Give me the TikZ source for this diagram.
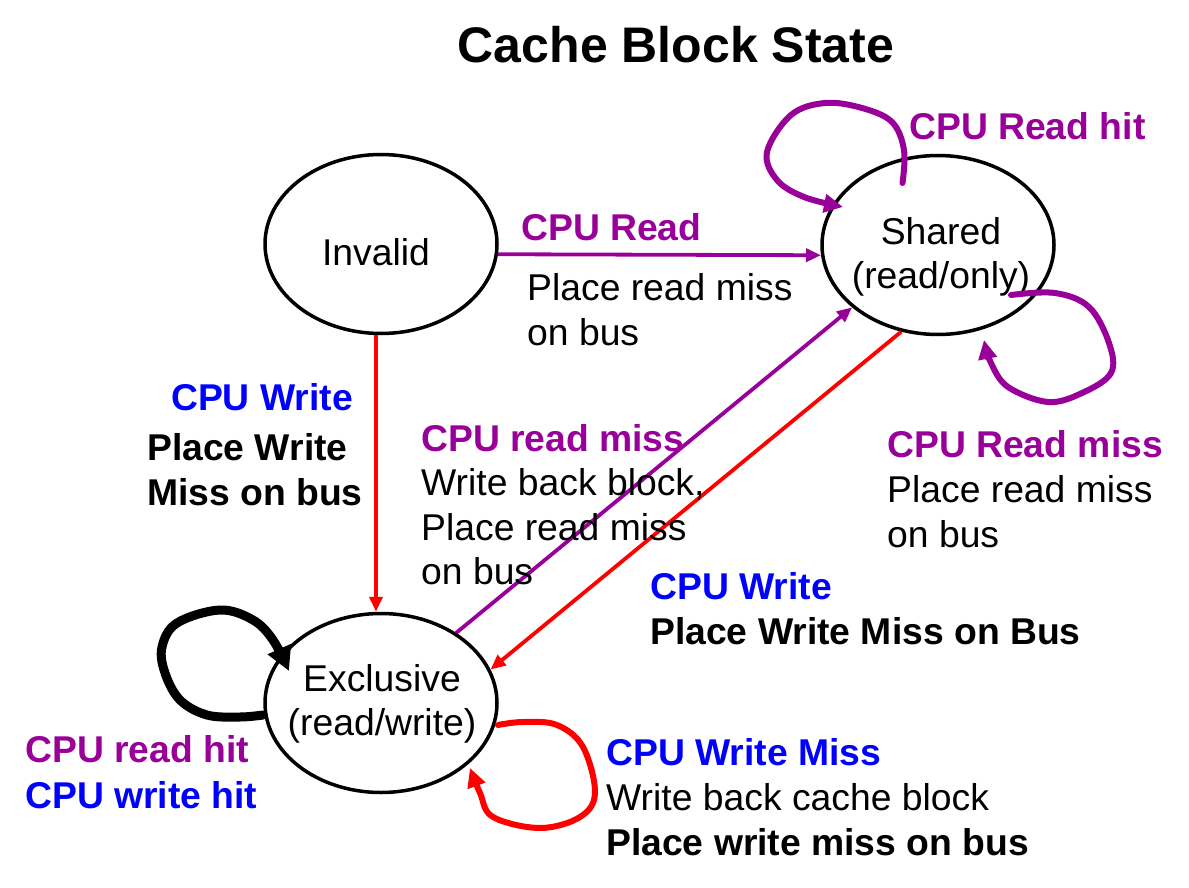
\documentclass[tikz,border=0pt]{standalone}
\usepackage{fontspec}
\setmainfont{Liberation Sans}
\usetikzlibrary{arrows.meta,calc,shapes.geometric}
\definecolor{pp}{RGB}{153,0,153}
\definecolor{bl}{RGB}{0,0,255}
\definecolor{rd}{RGB}{255,0,0}
\begin{document}
\begin{tikzpicture}[x=1pt,y=-1pt,
  state/.style={draw=black, line width=3.5pt, ellipse, minimum width=232pt, minimum height=179pt, inner sep=0pt},
  txt/.style={anchor=base west, inner sep=0pt, font=\fontsize{37.3}{44.5}\selectfont},
  txtr/.style={anchor=base east, inner sep=0pt, font=\fontsize{37.3}{44.5}\selectfont},
  stxt/.style={anchor=base, inner sep=0pt, font=\fontsize{37.3}{44.5}\selectfont},
  bb/.style={font=\fontsize{37.3}{44.5}\selectfont\bfseries},
  thin arrow/.style={line width=3.8pt, -{Triangle[length=15pt,width=13pt]}},
  loop arrow/.style={line width=6pt, line join=round, line cap=round, -{Triangle[length=19pt,width=18pt]}},
]
\useasboundingbox (0,0) rectangle (1189,888);

% title
\node[anchor=base, inner sep=0pt, font=\fontsize{50}{60}\selectfont\bfseries] (title) at (676,63) {Cache Block State};

% states
\node[state] (I) at (381,244) {};
\node[state] (S) at (938,245) {};
\node[state] (E) at (381,703) {};

\node[stxt] (It) at (376,265) {Invalid};
\node[stxt] (St1) at (941,244) {Shared};
\node[stxt] (St2) at (941,288) {(read/only)};
\node[stxt] (Et1) at (382,691) {Exclusive};
\node[stxt] (Et2) at (382,735) {(read/write)};

% straight transitions
\draw[thin arrow, pp] (I.-5) -- (S.185);
\draw[thin arrow, rd] ($(I.south)+(-5,0)$) -- ($(E.north)+(-5,0)$);
\draw[thin arrow, pp] (E.43.5) -- (S.216);
\draw[thin arrow, rd] (S.247) -- (E.17.8);

% self loops
\draw[loop arrow, pp] plot[smooth, tension=0.6] coordinates {(902.5,183) (904,150) (892,122) (862,108) (825,103) (791,115) (767,152) (777,180) (804,197) (843,207)};
\draw[loop arrow, pp] plot[smooth, tension=0.6] coordinates {(1011,295) (1055,293) (1089,307) (1109,343) (1111,373) (1082,393) (1048,402) (1008,387) (991,363) (984,340)};
\draw[line width=9pt, line join=round, line cap=round, black, -{Triangle[length=24pt,width=24pt]}] plot[smooth, tension=0.6] coordinates {(263,715) (240,717) (207,715) (180,700) (165,673) (162,647) (177,623) (220,610) (253,620) (273,640) (289,671)};
\draw[loop arrow, rd] plot[smooth, tension=0.6] coordinates {(498,725) (523,722) (557,725) (583,747) (595,793) (580,817) (540,828) (493,817) (480,793) (470,768)};

% labels
\node[txt, bb, pp] (l1) at (521,240) {CPU Read};
\node[txt] (l2) at (527,300) {Place read miss};
\node[txt] (l3) at (527,345) {on bus};

\node[txt, bb, pp] (l4) at (909,140) {CPU Read hit};

\node[txtr, bb, bl] (l5) at (353,410) {CPU Write};
\node[txt, bb] (l6) at (147,460) {Place Write};
\node[txt, bb] (l7) at (147,505) {Miss on bus};

\node[txt, bb, pp] (l8) at (421,451) {CPU read miss};
\node[txt] (l9) at (421,495) {Write back block,};
\node[txt] (l10) at (421,540) {Place read miss};
\node[txt] (l11) at (421,584) {on bus};

\node[txt, bb, pp] (l12) at (887,457) {CPU Read miss};
\node[txt] (l13) at (887,502) {Place read miss};
\node[txt] (l14) at (887,547) {on bus};

\node[txt, bb, bl] (l15) at (650,599) {CPU Write};
\node[txt, bb] (l16) at (650,644) {Place Write Miss on Bus};

\node[txt, bb, pp] (l17) at (25,762) {CPU read hit};
\node[txt, bb, bl] (l18) at (25,808) {CPU write hit};

\node[txt, bb, bl] (l19) at (606,765) {CPU Write Miss};
\node[txt] (l20) at (606,810) {Write back cache block};
\node[txt, bb] (l21) at (606,855) {Place write miss on bus};
\end{tikzpicture}
\end{document}
